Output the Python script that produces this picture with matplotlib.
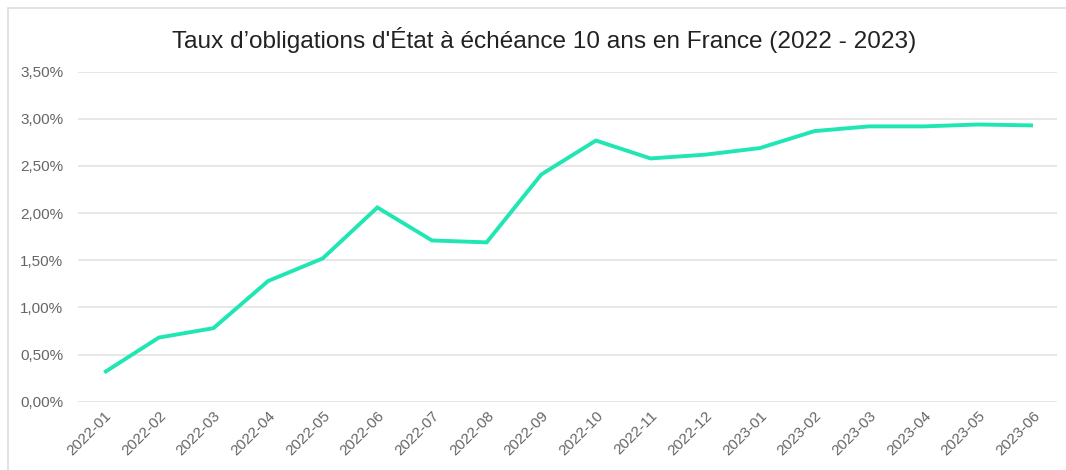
import matplotlib
matplotlib.use("Agg")
import matplotlib.pyplot as plt
from matplotlib.patches import Rectangle
from matplotlib.ticker import FuncFormatter

plt.rcParams['font.family'] = ['Liberation Sans', 'DejaVu Sans']

months = ["2022-01", "2022-02", "2022-03", "2022-04", "2022-05", "2022-06",
          "2022-07", "2022-08", "2022-09", "2022-10", "2022-11", "2022-12",
          "2023-01", "2023-02", "2023-03", "2023-04", "2023-05", "2023-06"]
rates = [0.31, 0.68, 0.78, 1.28, 1.52, 2.06, 1.71, 1.69, 2.41, 2.77, 2.58, 2.62,
         2.69, 2.87, 2.92, 2.92, 2.94, 2.93]
yticks = [0.0, 0.5, 1.0, 1.5, 2.0, 2.5, 3.0, 3.5]
title = "Taux d’obligations d'État à échéance 10 ans en France (2022 - 2023)"

fig = plt.figure(figsize=(10.66, 4.70), dpi=100)
fig.patch.set_facecolor('white')
# outer frame (top and left visible)
fig.add_artist(Rectangle((8/1066, -0.1), 1.2, 1 - 8/470 + 0.1, transform=fig.transFigure,
                         fill=False, edgecolor='#dddddd', linewidth=1.2))

ax = fig.add_axes([78/1066, 1 - 401.7/470, (1057 - 78)/1066, (401.7 - 71.7)/470])
x = list(range(len(months)))
ax.plot(x, rates, color='#1fe6b3', linewidth=2.8, solid_joinstyle='miter', solid_capstyle='butt', zorder=3)

ax.set_ylim(0, 3.5)
ax.set_xlim(-0.48, len(months) - 1 + 0.44)
ax.set_yticks(yticks)
ax.yaxis.set_major_formatter(FuncFormatter(lambda v, p: f"{v:.2f}".replace('.', ',') + "%"))
ax.set_xticks(x)
ax.set_xticklabels(months, rotation=45, ha='right', rotation_mode='anchor')
ax.tick_params(axis='both', length=0, colors='#666666', labelsize=11)
ax.tick_params(axis='y', pad=10.5)
ax.tick_params(axis='x', pad=5)
ax.grid(axis='y', color='#e3e3e3', linewidth=1.2)
ax.set_axisbelow(True)
for s in ax.spines.values():
    s.set_visible(False)

fig.text(544/1066, 1 - 40/470, title, ha='center', va='center', fontsize=17.6, color='#222222')

fig.savefig("out.png", dpi=100, facecolor='white')
